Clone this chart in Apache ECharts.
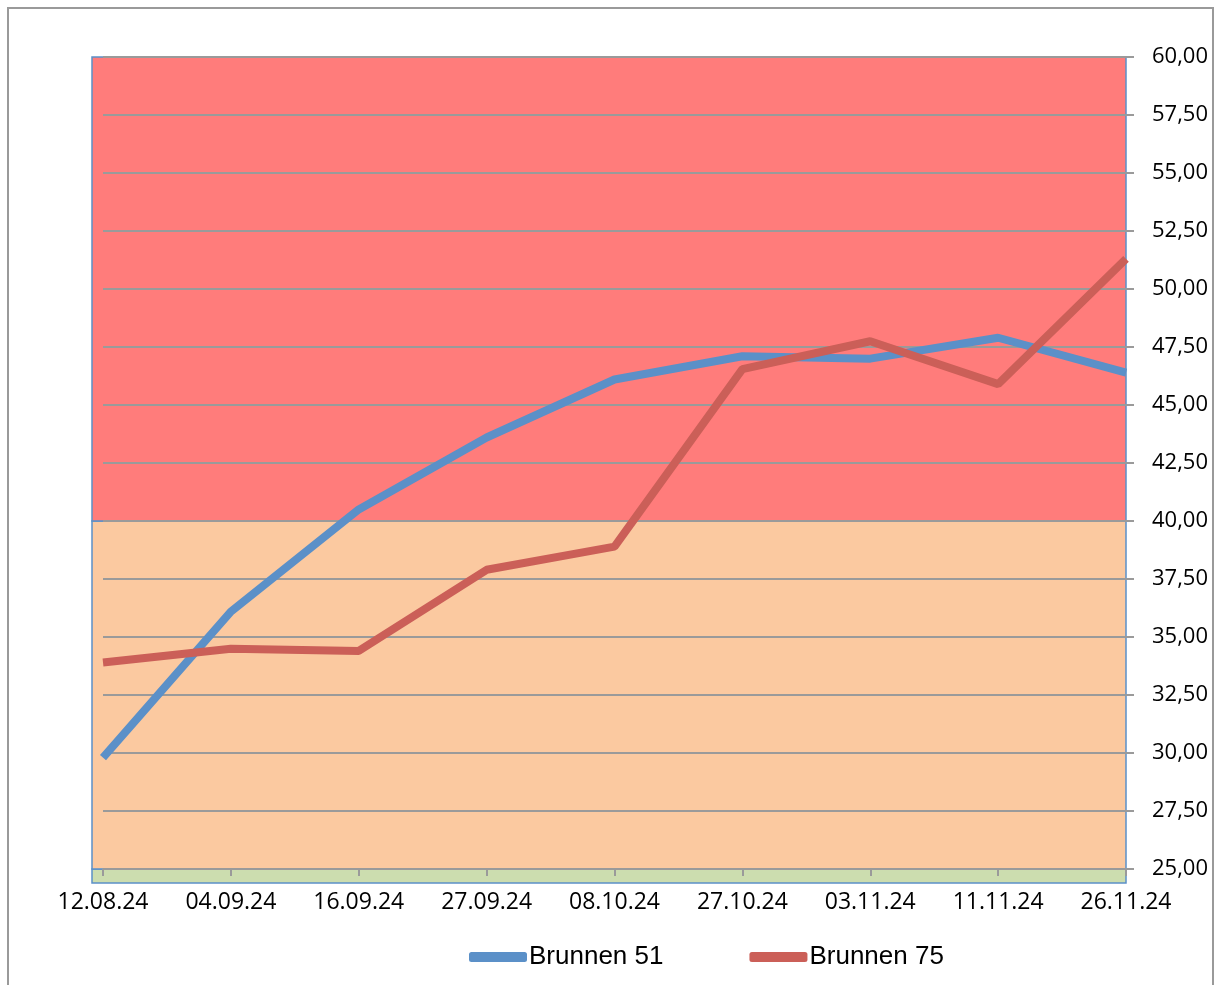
<!DOCTYPE html>
<html>
<head>
<meta charset="utf-8">
<script src="https://cdn.jsdelivr.net/npm/echarts@6/dist/echarts.min.js"></script>
<style>html,body{margin:0;padding:0;background:#fff;}#c{width:1218px;height:985px;}</style>
</head>
<body>
<div id="c"></div>
<script>
var categories = ['12.08.24','04.09.24','16.09.24','27.09.24','08.10.24','27.10.24','03.11.24','11.11.24','26.11.24'];
var brunnen51 = [29.8, 36.1, 40.5, 43.6, 46.1, 47.1, 47.0, 47.9, 46.4];
var brunnen75 = [33.9, 34.5, 34.4, 37.9, 38.9, 46.55, 47.75, 45.9, 51.3];
var yTicks = [25, 27.5, 30, 32.5, 35, 37.5, 40, 42.5, 45, 47.5, 50, 52.5, 55, 57.5, 60];
var yMin = 24.4, yMax = 60;
var bandBounds = [24.4, 25, 40, 60];
var bandColors = ['#CCDDAF', '#FBC9A0', '#FF7C7B'];

var chart = echarts.init(document.getElementById('c'));
var fontFam = '"Open Sans", sans-serif';
var bandData = [];
for (var i = 0; i < bandColors.length; i++) {
  bandData.push([
    { xAxis: 0, yAxis: bandBounds[i], itemStyle: { color: bandColors[i], borderColor: '#5B90C8', borderWidth: 1.5 } },
    { xAxis: 1, yAxis: bandBounds[i + 1] }
  ]);
}
chart.setOption({
  animation: false,
  graphic: [{ type: 'rect', shape: { x: 8, y: 8, width: 1205, height: 1010 }, style: { fill: 'none', stroke: '#9a9a9a', lineWidth: 2 }, z: -10 }],
  grid: [
    { left: 103, right: 92, top: 57, bottom: 102 },
    { left: 92, right: 92, top: 57, bottom: 102 }
  ],
  xAxis: [
    { type: 'category', gridIndex: 0, data: categories, boundaryGap: false, offset: -14, z: 5,
      axisLine: { show: false },
      axisTick: { show: true, length: 7, lineStyle: { color: '#9a9a9a', width: 2 } },
      axisLabel: { color: '#000', fontSize: 23, fontFamily: fontFam, margin: 22 },
      splitLine: { show: false } },
    { type: 'value', gridIndex: 1, min: 0, max: 1, show: false }
  ],
  yAxis: [
    { type: 'value', gridIndex: 0, position: 'right', min: yMin, max: yMax, z: 5,
      axisLine: { show: false },
      axisTick: { show: true, customValues: yTicks, length: 8, lineStyle: { color: '#9a9a9a', width: 2 } },
      axisLabel: { customValues: yTicks, color: '#000', fontSize: 22, fontFamily: fontFam, margin: 26,
        formatter: function (v) { return v.toFixed(2).replace('.', ','); } },
      splitLine: { show: true, lineStyle: { color: '#9a9a9a', width: 2 } } },
    { type: 'value', gridIndex: 1, min: yMin, max: yMax, show: false }
  ],
  legend: {
    left: 464, top: 939, itemWidth: 58, itemHeight: 10, itemGap: 86, icon: 'roundRect',
    textStyle: { color: '#000', fontSize: 26, fontFamily: '"Liberation Sans", Arial, sans-serif', padding: [0, 0, 0, -3] },
    data: ['Brunnen 51', 'Brunnen 75']
  },
  series: [
    { name: 'bands', type: 'line', xAxisIndex: 1, yAxisIndex: 1, data: [], z: 0, silent: true,
      markArea: { silent: true, data: bandData } },
    { name: 'Brunnen 51', type: 'line', data: brunnen51, showSymbol: false, symbol: 'none', z: 10,
      lineStyle: { color: '#5B90C8', width: 8 }, itemStyle: { color: '#5B90C8' } },
    { name: 'Brunnen 75', type: 'line', data: brunnen75, showSymbol: false, symbol: 'none', z: 11,
      lineStyle: { color: '#CB5F58', width: 8 }, itemStyle: { color: '#CB5F58' } }
  ]
});
</script>
</body>
</html>
